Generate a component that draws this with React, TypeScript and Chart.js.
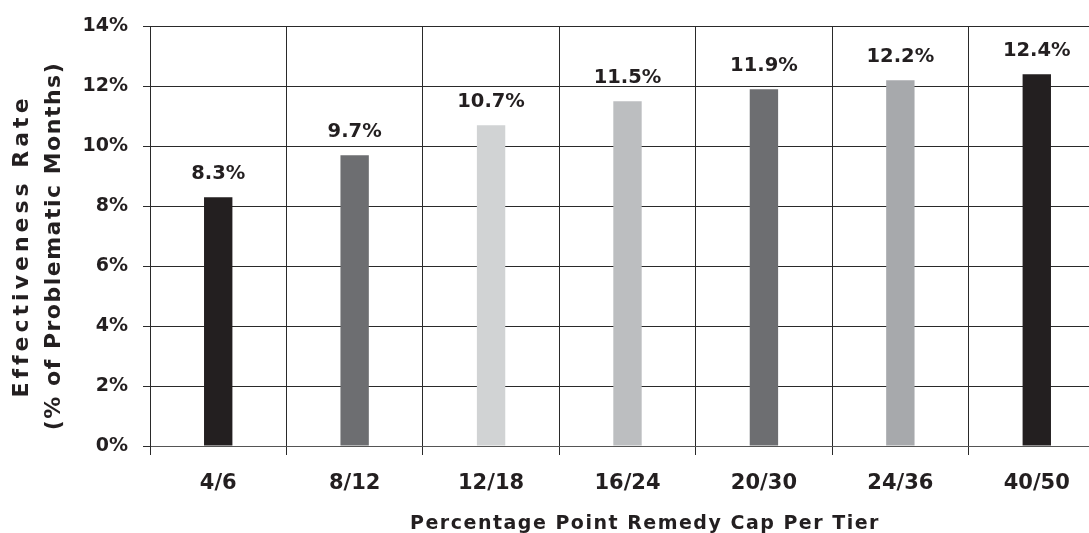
import React, { useEffect, useRef } from "react";
import { Chart, registerables } from "chart.js";

Chart.register(...registerables);

const categories = ["4/6", "8/12", "12/18", "16/24", "20/30", "24/36", "40/50"];
const values = [8.3, 9.7, 10.7, 11.5, 11.9, 12.2, 12.4];
const barColors = ["#231f20", "#6d6e71", "#d1d3d4", "#bcbec0", "#6d6e71", "#a7a9ac", "#231f20"];
const yTitleLines = ["Effectiveness Rate", "(% of Problematic Months)"];
const xTitle = "Percentage Point Remedy Cap Per Tier";
const yMin = 0;
const yMax = 14;
const yStep = 2;

const FONT = "'DejaVu Sans', sans-serif";
const TEXT = "#231f20";

export default function App() {
  const ref = useRef<HTMLCanvasElement | null>(null);

  useEffect(() => {
    const canvas = ref.current;
    if (!canvas) return;

    const labelsPlugin = {
      id: "customText",
      afterDraw(chart: any) {
        const ctx = chart.ctx as CanvasRenderingContext2D;
        ctx.save();
        // data labels
        ctx.fillStyle = TEXT;
        ctx.font = `bold 19.5px ${FONT}`;
        ctx.textAlign = "center";
        ctx.textBaseline = "alphabetic";
        const meta = chart.getDatasetMeta(0);
        meta.data.forEach((bar: any, i: number) => {
          ctx.fillText(values[i].toFixed(1) + "%", bar.x, bar.y - 18.5);
        });
        // x title
        (ctx as any).letterSpacing = "1.5px";
        ctx.font = `bold 19px ${FONT}`;
        ctx.textBaseline = "alphabetic";
        ctx.fillText(xTitle, 645, 529);
        // y title
        ctx.font = `bold 22px ${FONT}`;
        ctx.textBaseline = "middle";
        const xs = [22, 54];
        const spacing = ["4px", "1.5px"];
        yTitleLines.forEach((line, i) => {
          ctx.save();
          (ctx as any).letterSpacing = spacing[i];
          ctx.translate(xs[i], 246);
          ctx.rotate(-Math.PI / 2);
          ctx.fillText(line, 0, 0);
          ctx.restore();
        });
        (ctx as any).letterSpacing = "0px";
        ctx.restore();
      },
    };

    const chart = new Chart(canvas, {
      type: "bar",
      data: {
        labels: categories,
        datasets: [
          {
            data: values,
            backgroundColor: barColors,
            borderWidth: 0,
            barPercentage: 0.208,
            categoryPercentage: 1,
          },
        ],
      },
      options: {
        responsive: false,
        animation: false,
        devicePixelRatio: 1,
        layout: { padding: { top: 26, right: 0, bottom: 0, left: 0 } },
        plugins: {
          legend: { display: false },
          tooltip: { enabled: false },
          title: { display: false },
        },
        scales: {
          x: {
            offset: true,
            grid: {
              offset: true,
              color: "#2a2a2a",
              lineWidth: 1,
              tickLength: 9,
              drawTicks: true,
            },
            border: { display: true, color: "#555555", width: 1 },
            ticks: {
              color: TEXT,
              font: { family: FONT, size: 21, weight: "bold" },
              padding: 16,
              maxRotation: 0,
            },
            afterFit: (scale: any) => {
              scale.height = 87;
            },
          },
          y: {
            min: yMin,
            max: yMax,
            grid: { color: "#2a2a2a", lineWidth: 1, tickLength: 7 },
            border: { display: true, color: "#2a2a2a", width: 1 },
            ticks: {
              stepSize: yStep,
              color: TEXT,
              font: { family: FONT, size: 19, weight: "bold" },
              padding: 15,
              callback: (v: any) => v + "%",
            },
            afterFit: (scale: any) => {
              scale.width = 150;
            },
          },
        },
      },
      plugins: [labelsPlugin],
    } as any);

    return () => chart.destroy();
  }, []);

  return (
    <div
      style={{
        position: "fixed",
        left: 0,
        top: 0,
        width: 1089,
        height: 533,
        overflow: "hidden",
        background: "#ffffff",
      }}
    >
      <canvas ref={ref} width={1105} height={533} style={{ display: "block" }} />
    </div>
  );
}
